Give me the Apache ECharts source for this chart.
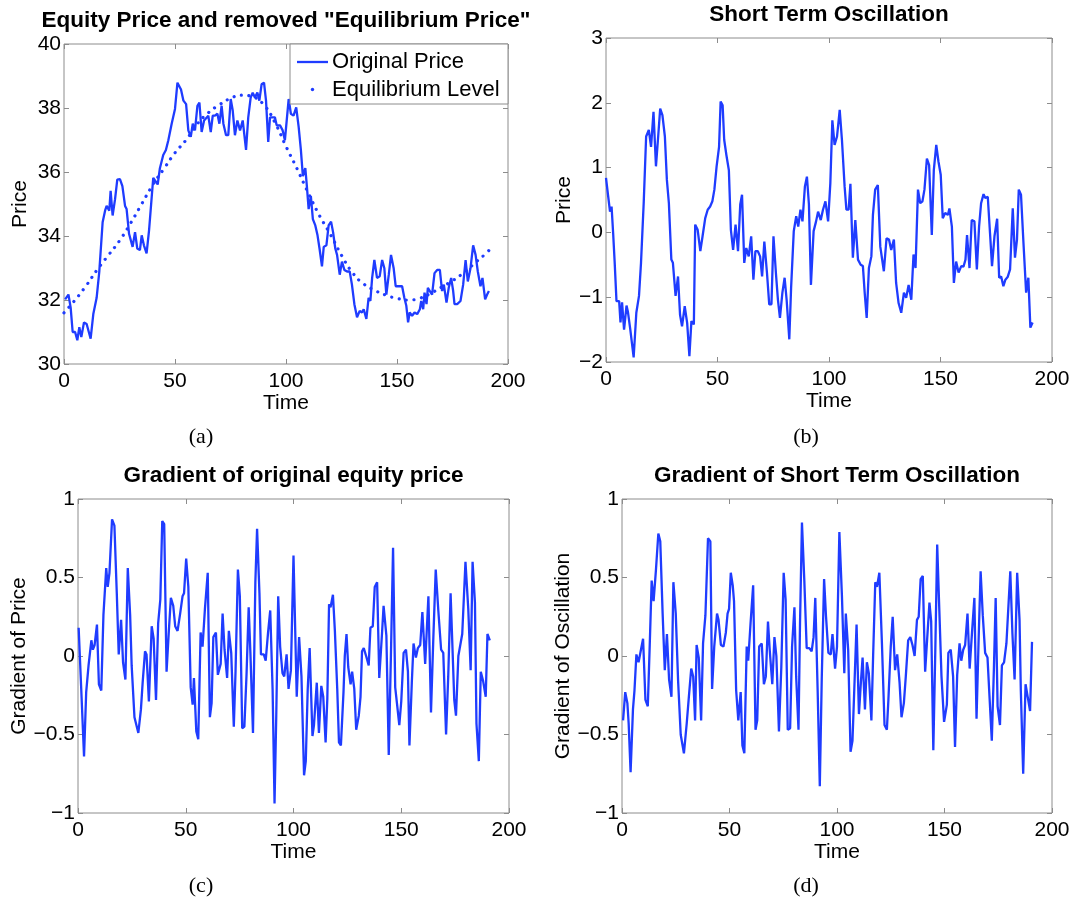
<!DOCTYPE html>
<html>
<head>
<meta charset="utf-8">
<script src="https://cdn.jsdelivr.net/npm/echarts@6/dist/echarts.min.js"></script>
<style>
  html, body { margin: 0; padding: 0; background: #fff; }
  #chart { width: 1081px; height: 903px; }
</style>
</head>
<body>
<div id="chart"></div>
<script>
// ---- Data: [time, value] pairs ----
const timeTicks = [0, 50, 100, 150, 200];

// (a) original equity price
const priceA = [[0.5,32.02],[2,32.17],[3,31.76],[3.9,31.0],[5,31.0],[6,30.74],[6.9,31.15],[7.8,30.84],[9,31.3],[10.2,31.25],[12,30.79],[13.2,31.56],[14.7,32.07],[15.9,32.89],[17.4,34.43],[18.5,34.79],[19.2,34.94],[20.4,34.79],[21,35.41],[21.9,34.64],[23,35.15],[24,35.76],[25.2,35.78],[26.3,35.56],[27.5,34.94],[28.2,34.84],[29.3,34.07],[30,34.12],[30.9,33.66],[32,34.12],[33,33.61],[34.2,33.56],[35,34.02],[36,33.71],[37.2,33.46],[38.3,34.17],[39.2,34.14],[40.2,35.82],[41,35.82],[42.2,35.61],[43.2,36.12],[44.7,36.53],[45.9,36.69],[47,36.99],[48.5,37.51],[50,37.97],[51.1,38.79],[52,38.82],[52.7,38.58],[53.8,38.23],[55,38.12],[56,37.3],[57.1,37.1],[58,37.51],[59,37.3],[60.1,38.07],[61,38.17],[62,37.25],[63.1,37.61],[64,37.56],[65,37.76],[66.1,37.25],[67,37.76],[68,37.76],[69.1,37.82],[70,37.51],[71,38.07],[71.8,37.51],[73,37.15],[74,37.15],[75.1,38.28],[76,37.92],[77,37.15],[78.1,37.61],[79.3,37.3],[80.5,37.61],[82,36.69],[83,37.71],[84.1,38.33],[85,38.48],[86,38.33],[87.1,38.48],[88,38.23],[89,38.74],[90.1,38.79],[91,38.23],[92,36.94],[92.8,37.71],[94,37.71],[95,37.71],[95.8,37.46],[97.3,37.46],[98.5,37.3],[99.5,36.99],[101.2,38.28],[102.2,37.82],[103.4,37.76],[104.6,38.02],[105.7,37.41],[106.7,36.69],[107.6,35.87],[108.7,36.12],[109.4,35.56],[110.2,34.84],[111.2,35.25],[112.1,34.53],[113.2,34.33],[114.2,34.02],[115.1,33.61],[116.2,33.05],[117,33.66],[118.2,33.71],[119.2,34.33],[120.3,34.45],[121.2,34.12],[122.2,33.61],[123,33.41],[124.2,32.79],[125.2,33.2],[126.3,32.94],[127.5,32.89],[128.7,32.89],[129.7,32.48],[130.8,31.87],[132,31.46],[133.2,31.66],[134.2,31.61],[135,31.71],[136.2,31.41],[137.2,32.07],[138,31.97],[138.8,32.69],[139.8,33.25],[141,32.69],[142.2,32.74],[143.3,33.25],[144.3,32.99],[145.2,32.17],[146.3,32.79],[147.3,33.41],[148.5,32.99],[149.4,32.43],[150.8,32.43],[152.3,32.43],[153.3,32.07],[154.2,31.82],[155,31.3],[155.7,31.61],[156.8,31.51],[157.9,31.61],[159.1,31.56],[160.3,31.71],[160.9,31.97],[161.8,31.71],[162.4,32.23],[163.3,31.87],[163.9,32.38],[164.8,32.28],[165.8,32.17],[166.9,32.84],[168.1,32.94],[169.3,32.94],[170.3,32.28],[171.1,32.48],[172.3,31.92],[173.3,32.38],[174.4,32.69],[175.3,32.28],[175.9,31.87],[177.1,31.87],[178.6,31.97],[179.8,32.48],[180.9,33.25],[181.9,32.58],[183.1,32.99],[184.3,33.71],[185.4,33.41],[186.4,32.89],[187.6,32.43],[188.5,32.69],[189.7,32.02],[190.6,32.17],[191.4,32.28]];

// (a) equilibrium level
const equilibriumA = [[0,31.6],[5,32.0],[10,32.45],[15,32.95],[20,33.4],[25,33.85],[30,34.4],[35,35.0],[40,35.6],[45,36.1],[50,36.6],[55,37.0],[60,37.5],[65,37.85],[70,38.1],[75,38.3],[80,38.4],[85,38.35],[90,38.1],[95,37.55],[100,36.8],[105,36.1],[110,35.35],[115,34.65],[120,34.05],[125,33.4],[130,32.85],[135,32.5],[140,32.3],[145,32.15],[150,32.05],[155,32.0],[160,32.05],[165,32.2],[170,32.4],[175,32.6],[180,32.85],[185,33.15],[190,33.45],[191.4,33.55]];

// (b) short term oscillation
const oscillationB = [[0,0.84],[1,0.55],[1.8,0.32],[2.5,0.4],[3.2,-0.01],[3.9,-0.47],[4.7,-1.06],[5.9,-1.06],[6.5,-1.39],[7.2,-1.08],[8.1,-1.5],[9.2,-1.13],[9.8,-1.22],[10.9,-1.5],[12.4,-1.93],[13.6,-1.24],[14.8,-0.98],[15.7,-0.47],[16.9,0.45],[18,1.48],[19.2,1.58],[20.2,1.32],[21.3,1.86],[22.4,1.02],[23.4,1.48],[24.3,1.91],[25.3,1.81],[26.4,1.48],[27.3,0.81],[28.2,0.45],[29.3,-0.42],[30,-0.47],[31.2,-0.98],[32.3,-0.68],[33.2,-1.27],[34.1,-1.45],[35.3,-1.14],[36.4,-1.4],[37.4,-1.91],[38.3,-1.37],[39.4,-1.42],[40,0.12],[41.1,0.04],[42.3,-0.29],[43.3,-0.06],[44.5,0.22],[45.6,0.35],[46.7,0.4],[47.7,0.48],[48.6,0.66],[49.6,1.02],[50.7,1.32],[51.4,2.02],[52.3,1.96],[53,1.43],[54,1.19],[55.1,0.96],[56,0.04],[57,-0.27],[58.1,0.12],[59.2,-0.29],[60.2,0.43],[61,0.58],[62,-0.47],[62.9,-0.24],[64,-0.37],[65.1,-0.06],[66.1,-0.73],[67,-0.29],[68.1,-0.29],[69.1,-0.37],[70,-0.68],[71,-0.14],[72.2,-0.63],[73.2,-1.11],[74.2,-1.11],[75.1,-0.06],[76.2,-0.63],[77.1,-1.04],[78,-1.32],[79.1,-0.93],[80.1,-0.7],[81,-1.04],[82.2,-1.65],[83,-0.86],[84.2,0.02],[85.3,0.25],[86.2,0.09],[87.2,0.35],[88.1,0.17],[89.2,0.71],[90.1,0.86],[91,0.43],[91.9,-0.81],[93.1,0.02],[94.2,0.17],[95.1,0.32],[96.3,0.19],[97.3,0.35],[98.4,0.48],[99.6,0.17],[100.6,0.76],[101.5,1.73],[102.5,1.35],[103.6,1.48],[104.8,1.89],[105.8,1.43],[107,0.71],[107.8,0.35],[108.8,0.35],[109.6,0.75],[110.7,-0.39],[111.8,0.19],[113,-0.42],[114.2,-0.5],[115.2,-0.52],[116,-0.93],[116.9,-1.32],[117.9,-0.55],[119,-0.37],[119.7,0.27],[120.7,0.66],[121.9,0.73],[123,-0.22],[123.7,-0.24],[124.6,-0.6],[125.8,-0.09],[126.9,-0.11],[127.9,-0.27],[129.1,-0.11],[130.1,-0.78],[131.2,-1.09],[132.4,-1.24],[133.6,-0.93],[134.6,-1.01],[135.7,-0.81],[136.9,-1.04],[137.9,-0.34],[138.8,-0.55],[139.9,0.66],[140.9,0.45],[141.9,0.48],[142.8,0.66],[143.9,1.14],[144.9,1.04],[146.1,-0.04],[147,0.96],[148.1,1.35],[149.1,1.09],[150.1,0.89],[151,0.22],[152.1,0.3],[153.3,0.27],[154,0.37],[155.1,0.09],[156,-0.78],[157,-0.45],[158.1,-0.62],[159.3,-0.52],[160.3,-0.53],[161.2,-0.42],[161.9,-0.04],[163,-0.55],[164,0.19],[165.2,0.17],[166.3,-0.57],[167.3,0.09],[168.2,0.45],[169.3,0.59],[170.1,0.53],[171.2,0.55],[172.2,-0.01],[173.1,-0.52],[174.2,-0.06],[175.4,0.21],[176.3,-0.7],[177.2,-0.68],[178.2,-0.83],[179.1,-0.73],[180.1,-0.69],[181.2,-0.57],[182.4,0.37],[183.4,-0.39],[184.3,-0.11],[185.1,0.66],[186.1,0.58],[187.2,-0.16],[188.4,-0.93],[189.4,-0.7],[190.3,-1.47],[191.3,-1.39]];

// (c) gradient of the original equity price
const gradientPriceC = [[0.3,0.18],[1.5,-0.21],[2.8,-0.64],[3.8,-0.23],[4.9,-0.06],[6.2,0.1],[6.9,0.04],[7.7,0.07],[8.8,0.2],[9.7,-0.18],[10.8,-0.22],[11.8,0.26],[13.1,0.56],[13.8,0.44],[14.6,0.53],[15.8,0.87],[16.9,0.83],[18,0.4],[18.9,0.01],[20,0.23],[20.9,-0.04],[22,-0.15],[23.1,0.56],[24.2,0.26],[24.9,-0.06],[26.2,-0.39],[27.1,-0.4],[28,-0.49],[29.2,-0.34],[30,-0.17],[31.1,0.03],[31.8,0.01],[32.9,-0.29],[34.2,0.19],[35.1,0.11],[36.2,-0.28],[37.2,0.21],[38.2,0.36],[39.1,0.86],[40,0.84],[41.1,-0.1],[42.2,0.17],[43.1,0.37],[44.2,0.32],[45.1,0.19],[46.2,0.16],[47.4,0.27],[48.5,0.38],[49.2,0.4],[50.2,0.62],[51.2,0.44],[52.3,-0.2],[53.2,-0.31],[53.8,-0.14],[54.9,-0.48],[55.8,-0.53],[56.9,0.15],[57.8,0.06],[58.9,0.3],[60.2,0.53],[61.2,-0.39],[62,-0.3],[62.8,0.12],[64,0.15],[64.9,-0.12],[66.2,-0.05],[67.1,0.27],[68,0.04],[69.2,-0.14],[70,0.16],[71.1,0.02],[72.3,-0.45],[73.1,-0.1],[74.2,0.55],[75.1,0.38],[76.2,-0.46],[77.2,-0.45],[78.2,-0.12],[79.2,0.31],[80,0.02],[81.2,-0.49],[82.3,0.47],[83.1,0.81],[84.2,0.4],[84.9,0.01],[86.2,0.01],[87.1,-0.03],[88.2,0.15],[89.2,0.29],[90.3,-0.21],[91.2,-0.94],[92,-0.38],[92.9,0.38],[93.8,0.06],[94.9,-0.11],[95.7,-0.13],[96.8,0.01],[97.7,-0.21],[98.8,-0.09],[100,0.64],[101.5,-0.26],[102.6,0.12],[103.7,-0.13],[104.9,-0.76],[105.7,-0.67],[106.6,-0.21],[107.5,0.05],[108.8,-0.51],[109.5,-0.44],[110.8,-0.17],[111.8,-0.49],[112.9,-0.19],[113.8,-0.26],[114.9,-0.55],[115.7,-0.27],[116.5,0.33],[117.2,0.31],[118.3,0.39],[119.2,0.16],[120.3,-0.21],[121.1,-0.55],[122,-0.57],[123.2,-0.23],[123.8,0],[124.6,0.14],[125.4,-0.07],[126.5,-0.18],[127.2,-0.1],[128.2,-0.21],[129.1,-0.47],[130.3,-0.38],[131.1,-0.26],[131.8,0.03],[132.6,0.05],[133.7,0],[134.9,-0.06],[135.7,0.18],[136.8,0.19],[137.7,0.44],[138.8,0.47],[139.8,-0.14],[141.1,0.15],[141.8,0.32],[143.1,0.13],[144.2,-0.63],[145.2,0],[146.2,0.69],[147.2,-0.2],[148,-0.3],[149.1,-0.44],[150,-0.29],[151.1,0.02],[152.2,0.04],[153.1,-0.1],[153.8,-0.57],[154.9,-0.17],[155.7,0.08],[156.8,-0.01],[157.7,0.05],[158.8,0.07],[159.8,0.28],[161.1,-0.05],[161.8,0.15],[162.6,0.38],[163.8,-0.36],[164.9,0.12],[166,0.55],[167.2,0.29],[168.5,0.04],[169.5,0.02],[170.8,-0.5],[171.8,-0.13],[172.9,0.4],[173.8,0.04],[174.6,-0.28],[175.4,-0.38],[176.5,0],[177.2,0.01],[178.3,0.14],[179.2,0.14],[179.8,0.6],[181.1,0.3],[182.2,-0.09],[183.1,0.6],[184.2,0.34],[184.9,-0.43],[186,-0.67],[186.9,-0.1],[188,-0.16],[189.2,-0.26],[190,0.14],[191.1,0.1]];

// (d) gradient of the short term oscillation
const gradientOscD = [[0.5,-0.41],[1.5,-0.23],[2.5,-0.3],[3.1,-0.43],[4,-0.74],[5.1,-0.34],[5.8,-0.22],[6.7,0.01],[7.7,-0.04],[8.6,-0.03],[9.8,0.11],[10.9,-0.28],[12,-0.32],[12.9,0.07],[13.8,0.48],[14.7,0.35],[15.8,0.55],[16.9,0.78],[17.8,0.73],[18.9,0.27],[19.9,-0.09],[20.9,0.14],[21.9,-0.15],[23,-0.26],[23.9,0.47],[25,0.27],[26.1,-0.16],[27.3,-0.5],[28.1,-0.51],[28.8,-0.62],[30.1,-0.43],[31.1,-0.26],[32.2,-0.08],[33.1,-0.13],[34,-0.41],[34.7,0.07],[35.7,-0.01],[36.8,-0.41],[37.7,0.08],[38.8,0.26],[40,0.75],[41.1,0.73],[41.9,-0.21],[42.9,0.06],[44.2,0.27],[44.9,0.23],[46,0.07],[47.2,0.06],[48.3,0.15],[49.1,0.27],[49.8,0.3],[50.6,0.53],[51.5,0.45],[52.1,0.35],[53.1,-0.22],[54.1,-0.41],[55.2,-0.23],[56,-0.57],[56.9,-0.62],[58,0.06],[58.7,-0.03],[59.8,0.21],[61,0.45],[62.1,-0.47],[62.9,-0.41],[63.8,0.06],[65,0.08],[66,-0.18],[66.9,-0.13],[67.9,0.22],[68.7,0.04],[69.9,-0.18],[70.9,0.12],[71.8,0],[73,-0.48],[74.1,-0.07],[75.2,0.53],[76.1,0.36],[77.1,-0.47],[78.2,-0.46],[79.1,0.06],[80.2,0.31],[81,-0.13],[82.1,-0.47],[82.8,0.21],[83.7,0.85],[84.8,0.48],[85.9,0.05],[87.1,0.05],[88.2,0.03],[89.1,0.12],[89.9,0.37],[91,-0.22],[92,-0.83],[92.9,-0.15],[94,0.49],[94.9,0.25],[96,0.02],[97.1,0.01],[97.9,0.14],[99.1,-0.08],[100,0.06],[101.1,0.79],[102.3,0.38],[103.4,-0.11],[104.1,0.27],[105.2,0.04],[106.3,-0.61],[107.2,-0.54],[108.2,-0.15],[109.1,0.2],[110.2,-0.37],[111.1,-0.17],[111.9,-0.01],[113,-0.34],[113.9,-0.04],[114.8,-0.11],[116,-0.41],[116.8,0],[117.8,0.47],[118.6,0.44],[119.7,0.53],[120.9,0.08],[122.1,-0.44],[123.2,-0.47],[123.9,-0.28],[125,0.06],[125.9,0.25],[127,-0.09],[128,0.01],[129.1,-0.17],[130,-0.39],[131.1,-0.3],[132,-0.13],[133.1,0.1],[134.1,0.12],[135.1,0.07],[136.1,0],[137.2,0.23],[138,0.25],[138.9,0.49],[139.9,0.51],[141,-0.1],[141.9,0.1],[143,0.34],[143.8,0.22],[144.8,-0.6],[145.7,0.02],[146.6,0.71],[147.6,0.29],[148.6,-0.13],[149.8,-0.42],[151.1,-0.31],[151.8,0.02],[152.9,0.04],[154,-0.13],[154.9,-0.58],[155.9,-0.12],[157,0.08],[157.8,-0.03],[158.7,0.04],[159.6,0.07],[160.7,0.27],[161.7,-0.08],[162.8,0.15],[163.9,0.37],[164.9,-0.4],[165.9,0.12],[166.8,0.54],[167.8,0.26],[168.9,0.02],[170,-0.01],[170.9,-0.25],[172,-0.54],[173,-0.07],[173.8,0.37],[174.7,-0.32],[175.8,-0.44],[176.7,-0.06],[177.7,-0.04],[178.8,0.08],[179.7,0.08],[180.6,0.54],[181.6,0.14],[182.6,-0.15],[183.8,0.53],[184.9,0.23],[185.5,-0.22],[186.6,-0.75],[187.7,-0.18],[188.7,-0.26],[189.8,-0.35],[190.7,0.09]];

// ---- Styling ----
const BLUE = '#1f3cff';
const AXIS_GREY = '#8c8c8c';
const SANS = '"Liberation Sans", Arial, sans-serif';
const SERIF = '"Liberation Serif", "Times New Roman", serif';

// one entry per sub-plot: grid box, y range, titles
const panels = [
  { grid: { left: 64, top: 44, width: 444, height: 320 }, yMin: 30, yMax: 40, yStep: 2,
    title: 'Equity Price and removed "Equilibrium Price"', yName: 'Price', yNameGap: 33, caption: '(a)', capX: 201, capY: 437 },
  { grid: { left: 606, top: 38, width: 446, height: 324 }, yMin: -2, yMax: 3, yStep: 1,
    title: 'Short Term Oscillation', yName: 'Price', yNameGap: 29, caption: '(b)', capX: 806, capY: 437 },
  { grid: { left: 78, top: 499, width: 431, height: 314 }, yMin: -1, yMax: 1, yStep: 0.5,
    title: 'Gradient of original equity price', yName: 'Gradient of Price', yNameGap: 38, caption: '(c)', capX: 201, capY: 886 },
  { grid: { left: 622, top: 499, width: 430, height: 314 }, yMin: -1, yMax: 1, yStep: 0.5,
    title: 'Gradient of Short Term Oscillation', yName: 'Gradient of Oscillation', yNameGap: 40, caption: '(d)', capX: 806, capY: 886 }
];

const minusSign = v => String(v).replace('-', '\u2212');
const tickStyle = { inside: true, length: 5, lineStyle: { color: AXIS_GREY, width: 1 } };
const hiddenLine = { show: false, onZero: false };

const grids = [], xAxes = [], yAxes = [], graphics = [];
panels.forEach((p, i) => {
  grids.push(Object.assign({ show: true, borderColor: AXIS_GREY, borderWidth: 1, backgroundColor: '#fff' }, p.grid));
  // bottom and top time axes
  xAxes.push({
    type: 'value', gridIndex: i, position: 'bottom', min: timeTicks[0], max: timeTicks[timeTicks.length - 1],
    interval: timeTicks[1] - timeTicks[0],
    axisLine: hiddenLine, splitLine: { show: false }, axisTick: tickStyle,
    axisLabel: { color: '#000', fontSize: 21, fontFamily: SANS, margin: 7 },
    name: 'Time', nameLocation: 'middle', nameGap: 29,
    nameTextStyle: { color: '#000', fontSize: 21, fontFamily: SANS }
  });
  xAxes.push({
    type: 'value', gridIndex: i, position: 'top', min: timeTicks[0], max: timeTicks[timeTicks.length - 1],
    interval: timeTicks[1] - timeTicks[0],
    axisLine: hiddenLine, splitLine: { show: false }, axisTick: tickStyle, axisLabel: { show: false }
  });
  // left and right value axes
  yAxes.push({
    type: 'value', gridIndex: i, position: 'left', min: p.yMin, max: p.yMax, interval: p.yStep,
    axisLine: hiddenLine, splitLine: { show: false }, axisTick: tickStyle,
    axisLabel: { color: '#000', fontSize: 21, fontFamily: SANS, margin: 3, formatter: minusSign },
    name: p.yName, nameLocation: 'middle', nameGap: p.yNameGap, nameRotate: 90,
    nameTextStyle: { color: '#000', fontSize: 21, fontFamily: SANS }
  });
  yAxes.push({
    type: 'value', gridIndex: i, position: 'right', min: p.yMin, max: p.yMax, interval: p.yStep,
    axisLine: hiddenLine, splitLine: { show: false }, axisTick: tickStyle, axisLabel: { show: false }
  });
  // panel title and caption
  graphics.push({
    type: 'text', x: p.grid.left + p.grid.width / 2, y: p.grid.top - 23, z: 100,
    style: { text: p.title, font: 'bold 22.5px ' + SANS, fill: '#000', align: 'center', verticalAlign: 'middle' }
  });
  graphics.push({
    type: 'text', x: p.capX, y: p.capY, z: 100,
    style: { text: p.caption, font: '22px ' + SERIF, fill: '#000', align: 'center', verticalAlign: 'middle' }
  });
});

// legend box of panel (a)
graphics.push(
  { type: 'rect', z: 100, shape: { x: 290, y: 44, width: 218, height: 60 },
    style: { fill: '#fff', stroke: AXIS_GREY, lineWidth: 1 } },
  { type: 'line', z: 101, shape: { x1: 297, y1: 62, x2: 328, y2: 62 },
    style: { stroke: BLUE, lineWidth: 2.3 } },
  { type: 'text', z: 101, x: 332, y: 62,
    style: { text: 'Original Price', font: '22px ' + SANS, fill: '#000', align: 'left', verticalAlign: 'middle' } },
  { type: 'circle', z: 101, shape: { cx: 312.5, cy: 89.5, r: 1.7 }, style: { fill: BLUE } },
  { type: 'text', z: 101, x: 332, y: 90,
    style: { text: 'Equilibrium Level', font: '22px ' + SANS, fill: '#000', align: 'left', verticalAlign: 'middle' } }
);

const solid = { color: BLUE, width: 2.3 };
const lineSeries = (data, axisIndex, lineStyle, extra) => Object.assign({
  type: 'line', data, xAxisIndex: 2 * axisIndex, yAxisIndex: 2 * axisIndex,
  showSymbol: false, symbol: 'none', lineStyle, silent: true, animation: false
}, extra || {});

const option = {
  backgroundColor: '#fff',
  animation: false,
  grid: grids,
  xAxis: xAxes,
  yAxis: yAxes,
  series: [
    lineSeries(priceA, 0, solid, { name: 'Original Price', z: 3 }),
    lineSeries(equilibriumA, 0, { color: BLUE, width: 3.2, type: [0.01, 7.5], cap: 'round' },
      { name: 'Equilibrium Level', smooth: true, z: 2 }),
    lineSeries(oscillationB, 1, solid),
    lineSeries(gradientPriceC, 2, solid),
    lineSeries(gradientOscD, 3, solid)
  ],
  graphic: graphics
};

const chart = echarts.init(document.getElementById('chart'));
chart.setOption(option);
</script>
</body>
</html>
